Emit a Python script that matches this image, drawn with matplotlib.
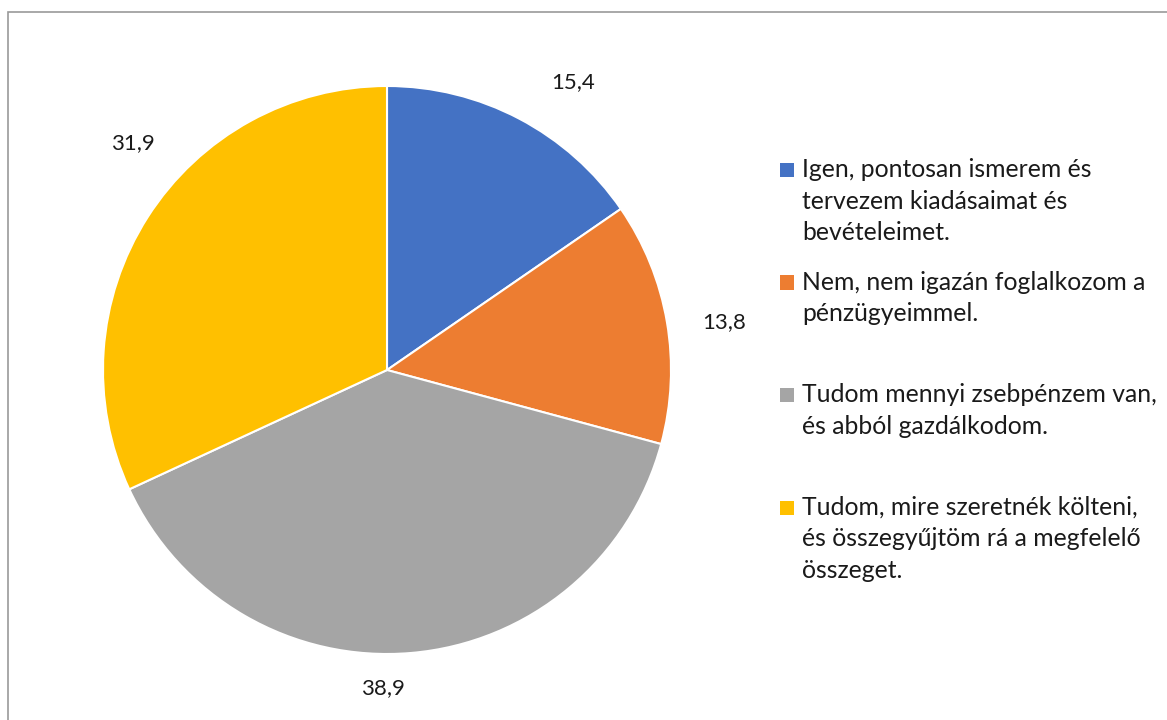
import math
import matplotlib.pyplot as plt
from matplotlib.patches import Rectangle

labels = ['Igen, pontosan ismerem és\ntervezem kiadásaimat és\nbevételeimet.',
          'Nem, nem igazán foglalkozom a\npénzügyeimmel.',
          'Tudom mennyi zsebpénzem van,\nés abból gazdálkodom.',
          'Tudom, mire szeretnék költeni,\nés összegyűjtöm rá a megfelelő\nösszeget.']
values = [15.4, 13.8, 38.9, 31.9]
value_text = ['15,4', '13,8', '38,9', '31,9']
COLORS = ['#4472C4', '#ED7D31', '#A5A5A5', '#FFC000']

# label placement: distance (in radii) and angular nudge from the wedge middle
label_dist = [1.207, 1.198, 1.12, 1.20]
label_turn = [-5.2, -1.6, -5.6, -9.1]

plt.rcParams['font.family'] = ['Lato', 'DejaVu Sans']
W, H = 1167, 720
fig = plt.figure(figsize=(W / 100, H / 100), dpi=100)

# outer chart border
fig.add_artist(Rectangle((8 / W, -0.1), 1.2, (H - 12) / H + 0.1, transform=fig.transFigure,
                         fill=False, edgecolor='#9a9a9a', linewidth=1.2))

ax = fig.add_axes([103 / W, 66 / H, 568 / W, 568 / H])
wedges, texts = ax.pie(values, colors=COLORS, startangle=90, counterclock=False,
                       wedgeprops=dict(edgecolor='white', linewidth=1.5),
                       labels=value_text, labeldistance=1.2,
                       textprops=dict(fontsize=16, color='#1a1a1a'))
ax.set_aspect('equal')
ax.set_xlim(-1, 1)
ax.set_ylim(-1, 1)

for w, t, d, turn in zip(wedges, texts, label_dist, label_turn):
    ang = math.radians((w.theta1 + w.theta2) / 2 + turn)
    t.set_position((d * math.cos(ang), d * math.sin(ang)))
    t.set_ha('center')
    t.set_va('center')

# legend, drawn by hand: entries evenly spaced, marker on first line
entry_y = 170
entry_step = 112.5
line_h = 31.7
for i, (lab, c) in enumerate(zip(labels, COLORS)):
    y0 = entry_y + i * entry_step
    fig.add_artist(Rectangle((780 / W, 1 - (y0 + 7) / H), 14 / W, 14 / H,
                             transform=fig.transFigure, facecolor=c, edgecolor='none'))
    for j, line in enumerate(lab.split('\n')):
        yb = y0 + j * line_h + 7
        fig.text(802 / W, 1 - yb / H, line, fontsize=17.8, color='#1a1a1a',
                 va='baseline', ha='left')

fig.savefig('out.png', dpi=100)
